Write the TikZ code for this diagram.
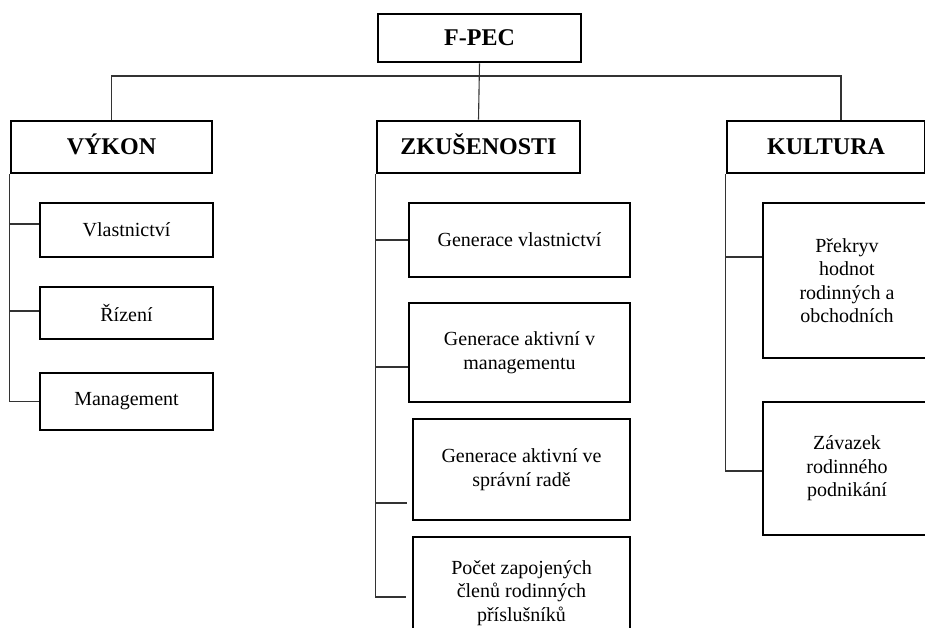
\documentclass[tikz,border=0pt]{standalone}
\usepackage{fontspec}
\setmainfont{Liberation Serif}
\begin{document}
\begin{tikzpicture}[x=1pt, y=-1pt]
% F-PEC chart, page measured in pixels from the top left corner
\providecommand{\fpecBoxLineWidth}{2.8pt}
\providecommand{\fpecLinkLineWidth}{1.1pt}
\providecommand{\fpecLinkColor}{black!80}
\tikzset{
  headbox/.style={draw, line width=\fpecBoxLineWidth, inner sep=0pt, fill=white,
    text height=16pt, text depth=0pt, font=\fontsize{24}{28}\selectfont\bfseries},
  itembox/.style={draw, line width=\fpecBoxLineWidth, inner sep=0pt, fill=white, align=center,
    font=\fontsize{20}{23.5}\selectfont},
  link/.style={draw=\fpecLinkColor, line width=\fpecLinkLineWidth}
}
\clip (0,0) rectangle (925,628);
\fill[white] (0,0) rectangle (925,628);
% Top box and the three groups
\node[headbox, minimum width=203pt, minimum height=48pt] (fpec) at (479.5,38) {F-PEC};
\node[headbox, minimum width=201pt, minimum height=52pt] (vykon) at (111.5,147) {VÝKON};
\node[headbox, minimum width=203pt, minimum height=52pt] (zkus) at (478.5,147) {ZKUŠENOSTI};
\node[headbox, minimum width=198pt, minimum height=52pt] (kult) at (826,147) {KULTURA};
% Items of VÝKON
\node[itembox, minimum width=173pt, minimum height=54pt] (vlast) at (126.5,230) {Vlastnictví};
\node[itembox, minimum width=173pt, minimum height=52pt] (rizeni) at (126.5,313) {Řízení};
\node[itembox, minimum width=173pt, minimum height=57pt] (mgmt) at (126.5,401.5) {Management};
% Items of ZKUŠENOSTI
\node[itembox, minimum width=221pt, minimum height=74pt] (genvl) at (519.5,240) {Generace vlastnictví};
\node[itembox, minimum width=221pt, minimum height=99pt] (genman) at (519.5,352.5) {Generace aktivní v\\managementu};
\node[itembox, minimum width=217pt, minimum height=101pt] (gensp) at (521.5,469.5) {Generace aktivní ve\\správní radě};
\node[itembox, minimum width=217pt, minimum height=112pt] (pocet) at (521.5,593) {Počet zapojených\\členů rodinných\\příslušníků};
% Items of KULTURA
\node[itembox, minimum width=168pt, minimum height=155pt] (prekryv) at (847,280.5) {Překryv\\hodnot\\rodinných a\\obchodních};
\node[itembox, minimum width=168pt, minimum height=133pt] (zavazek) at (847,468.5) {Závazek\\rodinného\\podnikání};
% Connectors
\begin{scope}[link]
  \coordinate (bus) at (482,76);
  \draw (fpec.south) -- (zkus.north);
  \draw (vykon.north) |- (bus) -| ([xshift=15pt]kult.north);
  % VÝKON
  \draw (vykon.south west) |- (mgmt.west);
  \draw ([yshift=6pt]vlast.west) -- ([yshift=6pt]vlast.west -| vykon.south west);
  \draw ([yshift=2pt]rizeni.west) -- ([yshift=2pt]rizeni.west -| vykon.south west);
  % ZKUŠENOSTI
  \draw (zkus.south west) |- ([xshift=-6pt,yshift=-4pt]pocet.west);
  \draw (genvl.west) -- (genvl.west -| zkus.south west);
  \draw ([yshift=-14.5pt]genman.west) -- ([yshift=-14.5pt]genman.west -| zkus.south west);
  \draw ([xshift=-5pt,yshift=-33.5pt]gensp.west) -- ([yshift=-33.5pt]gensp.west -| zkus.south west);
  % KULTURA
  \draw (kult.south west) |- ([yshift=-2.5pt]zavazek.west);
  \draw ([yshift=23.5pt]prekryv.west) -- ([yshift=23.5pt]prekryv.west -| kult.south west);
\end{scope}
\end{tikzpicture}
\end{document}
